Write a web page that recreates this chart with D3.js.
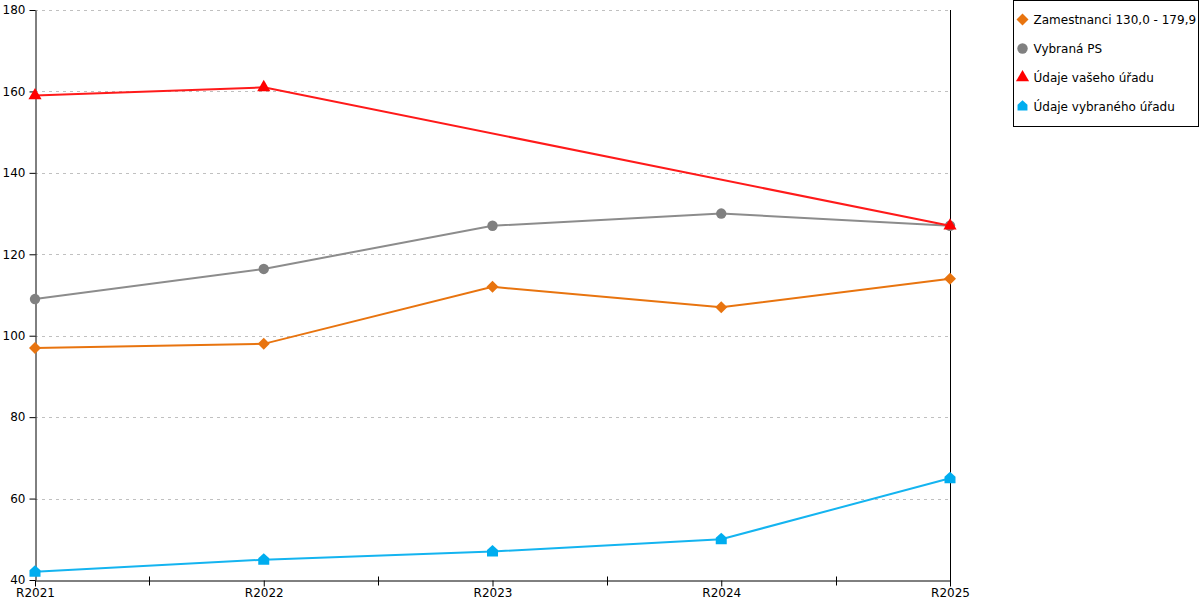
<!DOCTYPE html>
<html>
<head>
<meta charset="utf-8">
<script src="https://cdn.jsdelivr.net/npm/d3@7"></script>
<style>
  body { margin: 0; background: #fff; }
  svg { font-family: "DejaVu Sans", Verdana, sans-serif; }
</style>
</head>
<body>
<div id="chart"></div>
<script>
// data
var years = ["R2021", "R2022", "R2023", "R2024", "R2025"];
var zamestnanci = [97, 98, 112, 107, 114];
var vybranaPS = [109, 116.4, 127, 130, 127];
var vasUrad = [159, 161, null, null, 127];
var vybranyUrad = [42, 45, 47, 50, 65];
var yTicks = [40, 60, 80, 100, 120, 140, 160, 180];

var series = [
    { name: "Zamestnanci 130,0 - 179,9", values: zamestnanci, color: "#e8740f", line: "#e8740f", shape: "diamond" },
    { name: "Vybraná PS", values: vybranaPS, color: "#808080", line: "#8c8c8c", shape: "circle" },
    { name: "Údaje vašeho úřadu", values: vasUrad, color: "#ff0000", line: "#ff1a1a", shape: "triangle" },
    { name: "Údaje vybraného úřadu", values: vybranyUrad, color: "#00adef", line: "#14b4f0", shape: "house" }
];

var W = 1200, H = 600;
var margin = { left: 35, right: 250, top: 10, bottom: 20 };
var width = W - margin.left - margin.right;   // 915
var height = H - margin.top - margin.bottom;  // 570

var svg = d3.select("#chart")
    .append("svg")
    .attr("width", W)
    .attr("height", H);

var g = svg.append("g")
    .attr("transform", "translate(" + margin.left + "," + margin.top + ")");

var x = d3.scalePoint()
    .domain(years)
    .range([0, width]);

var y = d3.scaleLinear()
    .domain([40, 180])
    .range([height, 0]);

// grid lines
g.selectAll(".grid")
    .data(yTicks.filter(function(d) { return d > 40; }))
    .enter()
    .append("line")
    .attr("x1", 0)
    .attr("x2", width)
    .attr("y1", function(d) { return Math.round(y(d)) + 0.5; })
    .attr("y2", function(d) { return Math.round(y(d)) + 0.5; })
    .attr("stroke", "#c0c0c0")
    .attr("stroke-dasharray", "3,4");

// y axis
var yAxis = g.append("g")
    .attr("transform", "translate(0.5,0)")
    .call(d3.axisLeft(y).tickValues(yTicks).tickSize(6).tickPadding(4).tickSizeOuter(0));
yAxis.select(".domain").attr("stroke", "#000");
yAxis.selectAll("text").attr("font-size", "12px").attr("fill", "#000")
    .attr("font-family", "DejaVu Sans, sans-serif");

// right border line
g.append("line")
    .attr("x1", width + 0.5).attr("x2", width + 0.5)
    .attr("y1", 0).attr("y2", height + 6)
    .attr("stroke", "#000");

// x axis
var xAxis = g.append("g")
    .attr("transform", "translate(0," + (height + 0.5) + ")")
    .call(d3.axisBottom(x).tickSize(6).tickPadding(2).tickSizeOuter(0));
xAxis.select(".domain").attr("stroke", "#000");
xAxis.selectAll("text").attr("font-size", "12px").attr("fill", "#000")
    .attr("font-family", "DejaVu Sans, sans-serif");

// minor ticks between categories
var mids = years.slice(1).map(function(d, i) {
    return (x(years[i]) + x(d)) / 2;
});
xAxis.selectAll(".minor")
    .data(mids)
    .enter()
    .append("line")
    .attr("x1", function(d) { return Math.round(d) + 0.5; })
    .attr("x2", function(d) { return Math.round(d) + 0.5; })
    .attr("y1", -4)
    .attr("y2", 5)
    .attr("stroke", "#000");

// marker shapes
var symbolFor = {
    diamond: function() { return "M0,-6L6,0L0,6L-6,0Z"; },
    circle: d3.symbol().type(d3.symbolCircle).size(85),
    triangle: d3.symbol().type(d3.symbolTriangle).size(75),
    house: function() { return "M-5.5,-1.5L0,-6.5L5.5,-1.5L5.5,5L-5.5,5Z"; }
};

var line = d3.line()
    .x(function(d) { return x(d.year); })
    .y(function(d) { return y(d.value); });

series.forEach(function(s) {
    var pts = years.map(function(yr, i) { return { year: yr, value: s.values[i] }; })
        .filter(function(d) { return d.value != null; });

    g.append("path")
        .datum(pts)
        .attr("d", line)
        .attr("fill", "none")
        .attr("stroke", s.line)
        .attr("stroke-width", 2);

    g.selectAll(null)
        .data(pts)
        .enter()
        .append("path")
        .attr("transform", function(d) {
            return "translate(" + x(d.year) + "," + y(d.value) + ")";
        })
        .attr("d", symbolFor[s.shape])
        .attr("fill", s.color);
});

// legend
var legend = svg.append("g")
    .attr("transform", "translate(1013.5,0.5)");
legend.append("rect")
    .attr("width", 185)
    .attr("height", 126)
    .attr("fill", "#fff")
    .attr("stroke", "#000");

var item = legend.selectAll(".item")
    .data(series)
    .enter()
    .append("g")
    .attr("transform", function(d, i) { return "translate(0," + (19 + i * 29) + ")"; });

item.append("path")
    .attr("transform", function(d) {
        return d.shape === "house" ? "translate(9,-0.5) scale(0.9)" : "translate(9,0)";
    })
    .attr("d", function(d) { return symbolFor[d.shape](); })
    .attr("fill", function(d) { return d.color; });

item.append("text")
    .attr("x", 20)
    .attr("y", 4.5)
    .attr("font-size", "12px")
    .attr("fill", "#000")
    .text(function(d) { return d.name; });
</script>
</body>
</html>
